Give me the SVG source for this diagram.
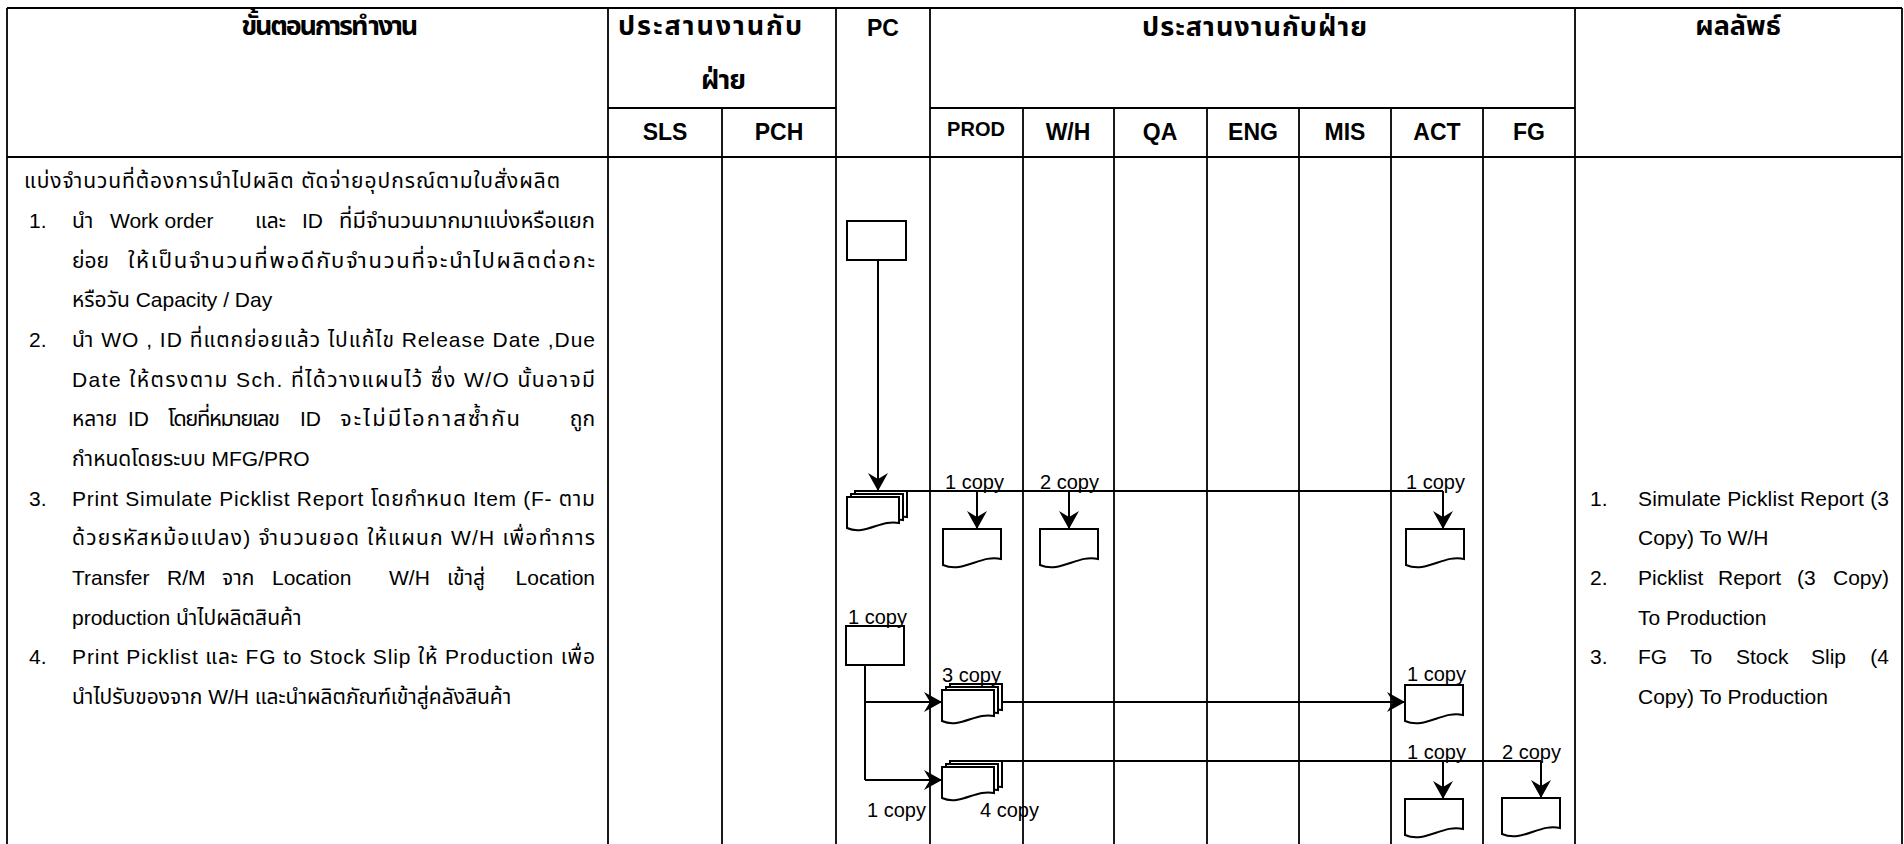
<svg xmlns="http://www.w3.org/2000/svg" xmlns:xlink="http://www.w3.org/1999/xlink" width="1904" height="844" viewBox="0 0 1904 844">
<style>
.t{font-family:"Liberation Sans","Noto Sans Thai","Noto Sans","DejaVu Sans",sans-serif;fill:#000}
.h{font-weight:bold;font-size:27px}
.hl{font-weight:bold;font-size:23px;text-anchor:middle}
.b{font-size:21px}
.th{font-size:22px}
.c{font-size:20px}
.e{text-anchor:end}
.grid line{stroke:#000;stroke-width:1.8}
.conn path{stroke:#000;stroke-width:2;fill:none}
.arr{marker-end:url(#ah)}
.shape{fill:#fff;stroke:#000;stroke-width:2}
</style>
<defs>
<marker id="ah" viewBox="-20 -11 22 22" refX="0" refY="0" markerWidth="22" markerHeight="22" markerUnits="userSpaceOnUse" orient="auto">
<path d="M0,0 L-18,-10 L-12,0 L-18,10 Z" fill="#000"/>
</marker>
<path id="doc" d="M0,0 H58 V30 C38,25 20,45 0,36 Z"/>
<path id="docS" d="M0,0 H52 V26 C34,22 18,39 0,31 Z"/>
<g id="stack">
<use xlink:href="#docS" transform="translate(8,-6)"/>
<use xlink:href="#docS" transform="translate(4,-3)"/>
<use xlink:href="#docS"/>
</g>
</defs>
<rect width="1904" height="844" fill="#fff"/>

<g id="table" class="grid">
<line x1="7" y1="8" x2="1902" y2="8"/>
<line x1="608" y1="108" x2="836" y2="108"/>
<line x1="930" y1="108" x2="1575" y2="108"/>
<line x1="7" y1="157" x2="1902" y2="157"/>
<line x1="7" y1="8" x2="7" y2="844"/>
<line x1="608" y1="8" x2="608" y2="844"/>
<line x1="722" y1="108" x2="722" y2="844"/>
<line x1="836" y1="8" x2="836" y2="844"/>
<line x1="930" y1="8" x2="930" y2="844"/>
<line x1="1023" y1="108" x2="1023" y2="844"/>
<line x1="1114" y1="108" x2="1114" y2="844"/>
<line x1="1207" y1="108" x2="1207" y2="844"/>
<line x1="1299" y1="108" x2="1299" y2="844"/>
<line x1="1391" y1="108" x2="1391" y2="844"/>
<line x1="1483" y1="108" x2="1483" y2="844"/>
<line x1="1575" y1="8" x2="1575" y2="844"/>
<line x1="1902" y1="8" x2="1902" y2="844"/>
</g>

<g id="header" class="t">
<text class="h" x="239" y="35" textLength="177">ขั้นตอนการทำงาน</text>
<text class="h" x="618" y="35" textLength="184">ประสานงานกับ</text>
<text class="h" x="700" y="89" textLength="45">ฝ่าย</text>
<text class="hl" x="883" y="36">PC</text>
<text class="h" x="1142" y="36" textLength="225">ประสานงานกับฝ่าย</text>
<text class="h" x="1738" y="35" text-anchor="middle">ผลลัพธ์</text>
<text class="hl" x="665" y="140">SLS</text>
<text class="hl" x="779" y="140">PCH</text>
<text class="hl" x="976" y="136" style="font-size:20px">PROD</text>
<text class="hl" x="1068" y="140">W/H</text>
<text class="hl" x="1160" y="140">QA</text>
<text class="hl" x="1253" y="140">ENG</text>
<text class="hl" x="1345" y="140">MIS</text>
<text class="hl" x="1437" y="140">ACT</text>
<text class="hl" x="1529" y="140">FG</text>
</g>

<g id="steps" class="t b">
<text x="24" y="188" textLength="536">แบ่งจำนวนที่ต้องการนำไปผลิต ตัดจ่ายอุปกรณ์ตามใบสั่งผลิต</text>
<text x="29" y="228">1.</text>
<text y="228"><tspan x="72">นำ</tspan><tspan x="110">Work order</tspan><tspan x="255">และ</tspan><tspan x="302">ID</tspan></text>
<text class="th" x="339" y="228" textLength="256">ที่มีจำนวนมากมาแบ่งหรือแยก</text>
<text x="72" y="268">ย่อย</text>
<text class="th" x="128" y="268" textLength="467">ให้เป็นจำนวนที่พอดีกับจำนวนที่จะนำไปผลิตต่อกะ</text>
<text x="72" y="307">หรือวัน Capacity / Day</text>
<text x="29" y="347">2.</text>
<text x="72" y="347" textLength="523">นำ WO , ID ที่แตกย่อยแล้ว ไปแก้ไข Release Date ,Due</text>
<text x="72" y="387" textLength="523">Date ให้ตรงตาม Sch. ที่ได้วางแผนไว้ ซึ่ง W/O นั้นอาจมี</text>
<text y="426"><tspan x="72">หลาย</tspan><tspan x="128">ID</tspan></text>
<text class="th" x="168" y="426" textLength="112">โดยที่หมายเลข</text>
<text x="300" y="426">ID</text>
<text class="th" x="340" y="426" textLength="180">จะไม่มีโอกาสซ้ำกัน</text>
<text class="e" x="595" y="426">ถูก</text>
<text x="72" y="466">กำหนดโดยระบบ MFG/PRO</text>
<text x="29" y="506">3.</text>
<text x="72" y="506" textLength="523">Print Simulate Picklist Report โดยกำหนด Item (F- ตาม</text>
<text x="72" y="545" textLength="523">ด้วยรหัสหม้อแปลง) จำนวนยอด ให้แผนก W/H เพื่อทำการ</text>
<text y="585"><tspan x="72">Transfer</tspan><tspan x="167">R/M</tspan><tspan x="222">จาก</tspan><tspan x="272">Location</tspan><tspan x="389">W/H</tspan><tspan x="447">เข้าสู่</tspan></text>
<text class="e" x="595" y="585">Location</text>
<text x="72" y="625">production นำไปผลิตสินค้า</text>
<text x="29" y="664">4.</text>
<text x="72" y="664" textLength="523">Print Picklist  และ FG to Stock Slip ให้ Production เพื่อ</text>
<text x="72" y="704">นำไปรับของจาก W/H และนำผลิตภัณฑ์เข้าสู่คลังสินค้า</text>
</g>

<g id="results" class="t b">
<text x="1590" y="506">1.</text>
<text x="1638" y="506" textLength="251">Simulate Picklist Report (3</text>
<text x="1638" y="545">Copy) To W/H</text>
<text x="1590" y="585">2.</text>
<text y="585"><tspan x="1638">Picklist</tspan><tspan x="1718">Report</tspan><tspan x="1797">(3</tspan></text>
<text class="e" x="1889" y="585">Copy)</text>
<text x="1638" y="625">To Production</text>
<text x="1590" y="664">3.</text>
<text y="664"><tspan x="1638">FG</tspan><tspan x="1690">To</tspan><tspan x="1736">Stock</tspan><tspan x="1811">Slip</tspan></text>
<text class="e" x="1889" y="664">(4</text>
<text x="1638" y="704">Copy) To Production</text>
</g>

<g id="node-pc-process1"><rect class="shape" x="847" y="221" width="59" height="39"/></g>
<g id="node-pc-picklist"><use class="shape" xlink:href="#stack" transform="translate(847,497)"/></g>
<g id="node-prod-doc1"><use class="shape" xlink:href="#doc" transform="translate(943,529)"/></g>
<g id="node-wh-doc1"><use class="shape" xlink:href="#doc" transform="translate(1040,529)"/></g>
<g id="node-act-doc1"><use class="shape" xlink:href="#doc" transform="translate(1406,529)"/></g>
<g id="node-pc-process2"><rect class="shape" x="846" y="626" width="58" height="39"/></g>
<g id="node-prod-picklist"><use class="shape" xlink:href="#stack" transform="translate(942,690)"/></g>
<g id="node-act-doc2"><use class="shape" xlink:href="#doc" transform="translate(1405,685)"/></g>
<g id="node-prod-stockslip"><use class="shape" xlink:href="#stack" transform="translate(942,767)"/></g>
<g id="node-act-doc3"><use class="shape" xlink:href="#doc" transform="translate(1405,799)"/></g>
<g id="node-fg-doc3"><use class="shape" xlink:href="#doc" transform="translate(1502,798)"/></g>

<g id="connectors" class="conn">
<path class="arr" d="M878,260 V491"/>
<path d="M855,491 H1443"/>
<path class="arr" d="M977,491 V529"/>
<path class="arr" d="M1069,491 V529"/>
<path class="arr" d="M1443,491 V529"/>
<path d="M865,665 V780"/>
<path class="arr" d="M865,702 H942"/>
<path class="arr" d="M865,780 H942"/>
<path class="arr" d="M1002,702 H1405"/>
<path d="M997,761 H1541"/>
<path class="arr" d="M1443,761 V799"/>
<path class="arr" d="M1541,761 V798"/>
</g>

<g id="connector-labels" class="t c">
<text x="945" y="489">1 copy</text>
<text x="1040" y="489">2 copy</text>
<text x="1406" y="489">1 copy</text>
<text x="848" y="624">1 copy</text>
<text x="942" y="682">3 copy</text>
<text x="1407" y="681">1 copy</text>
<text x="1407" y="759">1 copy</text>
<text x="1502" y="759">2 copy</text>
<text x="867" y="817">1 copy</text>
<text x="980" y="817">4 copy</text>
</g>
</svg>
